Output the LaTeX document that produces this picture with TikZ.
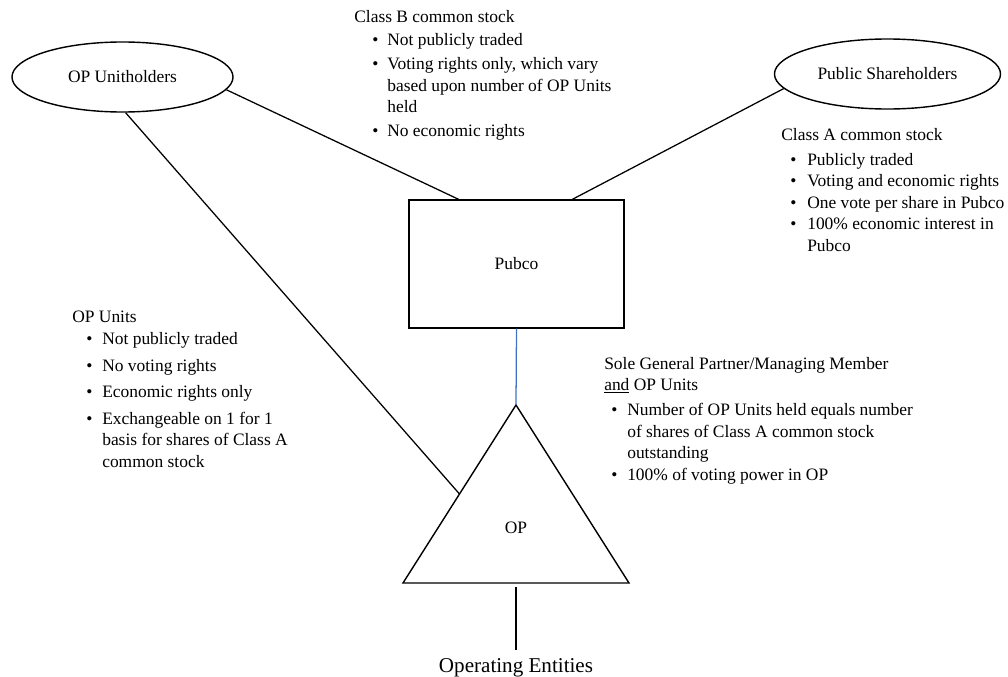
\documentclass[tikz,border=0pt]{standalone}
\usepackage{fontspec}
\setmainfont{Liberation Serif}
\usetikzlibrary{shapes.geometric, calc}
\newlength\bulletskip
\newlength\textskip
\newcommand{\bpt}{\makebox[\textskip][l]{\hspace*{\bulletskip}\textbullet}}
\newcommand{\cnt}{\hspace*{\textskip}}
\definecolor{linkblue}{RGB}{68,114,196}
\tikzset{
  holder/.style={draw, ellipse, line width=1pt, inner sep=0pt, minimum height=1.75cm},
  entity/.style={draw, rectangle, line width=1pt, minimum width=5.375cm, minimum height=3.2cm},
  link/.style={line width=0.9pt},
  notes/.style={anchor=base west, inner sep=0pt},
}

\begin{document}
\begin{tikzpicture}[x=0.025cm, y=-0.025cm, font=\fontsize{12.4}{15.3}\selectfont]

            \useasboundingbox (0,0) rectangle (1008,677);

            % Halter oben links und rechts
            \node[holder, minimum width=5.525cm] (opuh) at (122.5,77) {OP Unitholders};
            \node[holder, minimum width=5.65cm] (pubsh) at (887.5,74) {Public Shareholders};

            % Pubco in der Mitte
            \node[entity] (pubco) at (516.5,264) {Pubco};

            % Dreieck OP
            \coordinate (optop) at (516,405);
            \coordinate (opleft) at (403,583);
            \coordinate (opright) at (629,583);
            \draw[link, line width=1pt] (optop) -- (opleft) -- (opright) -- cycle;
            \node (op) at (516,528) {OP};
            \coordinate (opjoin) at ($(optop)!0.5!(opleft)$);

            % Operating Entities unten
            \coordinate (opfoot) at (516,587);
            \node[font=\fontsize{15}{18}\selectfont, anchor=base] (opent) at (516,672) {Operating Entities};

            % Verbindungen
            \draw[link] (opuh.-7) -- ($(pubco.north)+(-58,0)$);
            \draw[link] (pubsh.188) -- ($(pubco.north)+(56,0)$);
            \draw[link] (opuh.-85) -- (opjoin);
            \draw[link, linkblue] (pubco.south) -- (optop);
            \draw[link, shorten >=2.5pt] (opfoot) -- (opent.north);

            % Class B
            \node[notes] (classb) at (354,23) {\setlength\bulletskip{0.45cm}\setlength\textskip{0.825cm}%
              \begin{tabular}[t]{@{}l@{}}
                Class B common stock\\[1pt]
                \bpt Not publicly traded\\[1.5pt]
                \bpt Voting rights only, which vary\\
                \cnt based upon number of OP Units\\
                \cnt held\\[1.5pt]
                \bpt No economic rights
              \end{tabular}};

            % Class A
            \node[notes] (classa) at (781,140) {\setlength\bulletskip{0.225cm}\setlength\textskip{0.65cm}%
              \begin{tabular}[t]{@{}l@{}}
                Class A common stock\\[2.5pt]
                \bpt Publicly traded\\
                \bpt Voting and economic rights\\
                \bpt One vote per share in Pubco\\
                \bpt 100\% economic interest in\\
                \cnt Pubco
              \end{tabular}};

            % OP Units
            \node[notes] (opunits) at (72,322) {\setlength\bulletskip{0.35cm}\setlength\textskip{0.75cm}%
              \begin{tabular}[t]{@{}l@{}}
                OP Units\\[1pt]
                \bpt Not publicly traded\\[3.5pt]
                \bpt No voting rights\\[3.5pt]
                \bpt Economic rights only\\[3.5pt]
                \bpt Exchangeable on 1 for 1\\
                \cnt basis for shares of Class A\\
                \cnt common stock
              \end{tabular}};

            % General Partner
            \node[notes] (solegp) at (604,369) {\setlength\bulletskip{0.175cm}\setlength\textskip{0.575cm}%
              \begin{tabular}[t]{@{}l@{}}
                Sole General Partner/Managing Member\\
                \underline{and} OP Units\\[2.5pt]
                \bpt Number of OP Units held equals number\\
                \cnt of shares of Class A common stock\\
                \cnt outstanding\\
                \bpt 100\% of voting power in OP
              \end{tabular}};

\end{tikzpicture}
\end{document}
